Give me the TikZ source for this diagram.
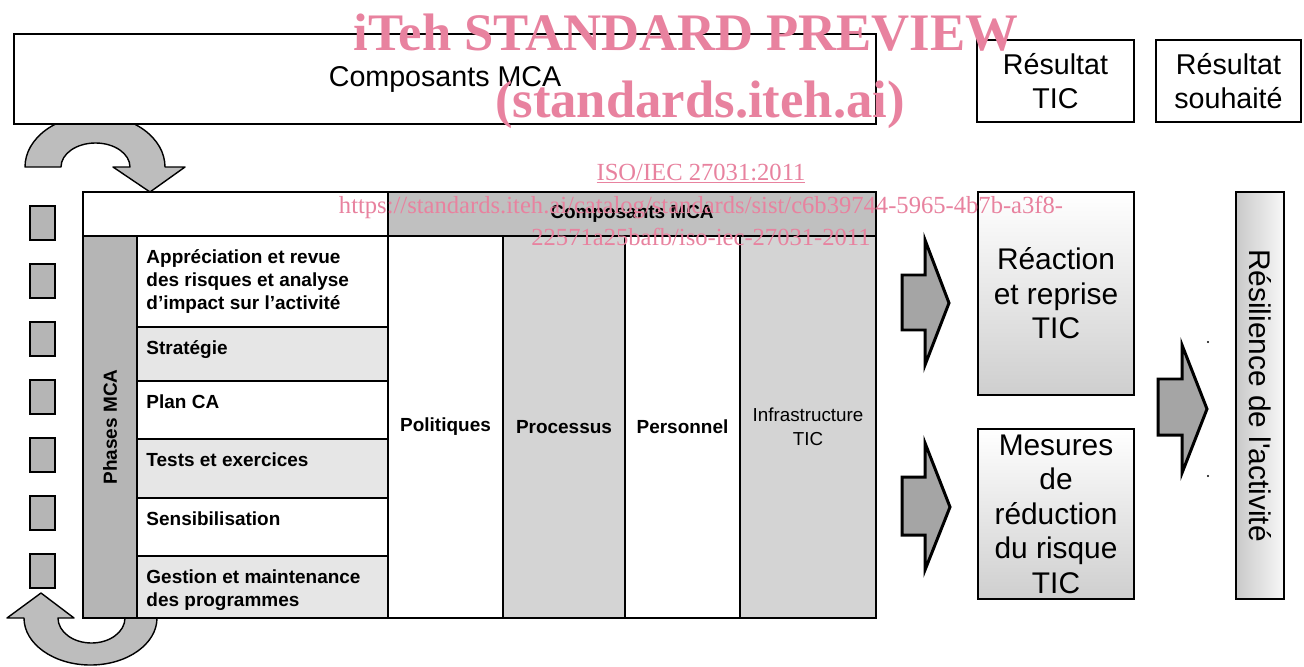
\documentclass[tikz,border=0pt]{standalone}
\usepackage{fontspec}
\setmainfont{Liberation Sans}
\newfontfamily\wmserif{Liberation Serif}
\usetikzlibrary{positioning,fit}
\definecolor{loopgray}{HTML}{BDBDBD}
\definecolor{phasegray}{HTML}{B5B5B5}
\definecolor{headgray}{HTML}{C0C0C0}
\definecolor{colgray}{HTML}{D4D4D4}
\definecolor{rowgray}{HTML}{E6E6E6}
\definecolor{arrowgray}{HTML}{A5A5A5}
\definecolor{wmpink}{HTML}{E8829F}

\begin{document}
\begin{tikzpicture}[x=0.02cm, y=-0.02cm,
  tabcell/.style={draw, line width=1pt, inner sep=0pt, fill=white},
  lbl/.style={inner sep=0pt, align=center},
  bigtxt/.style={lbl, font=\fontsize{17}{19.6}\selectfont},
  tabtxt/.style={lbl, font=\fontsize{10.8}{13}\selectfont\bfseries},
  rowtxt/.style={tabtxt, align=left},
  looparrow/.style={draw, line width=0.8pt, fill=loopgray, line join=round},
  blockarrow/.style={draw, line width=1.7pt, fill=arrowgray, line join=miter},
  wmbig/.style={text=wmpink, inner sep=0pt, anchor=base, font=\wmserif\bfseries\fontsize{30}{36}\selectfont},
  wmsmall/.style={text=wmpink, inner sep=0pt, anchor=base, font=\wmserif\fontsize{14}{17}\selectfont}
]
  \useasboundingbox (0,0) rectangle (1304,666);
  \fill[white] (0,0) rectangle (1304,666);

  % curved arrows round the phases
  \draw[looparrow] (25,167) arc[start angle=180, end angle=360, x radius=70, y radius=52]
    -- (185,167) -- (150,192) -- (113,167) -- (130,167)
    arc[start angle=0, end angle=-180, x radius=34.5, y radius=24] -- cycle;
  \draw[looparrow] (24,618) arc[start angle=180, end angle=0, x radius=66.5, y radius=47]
    -- (125,618) arc[start angle=0, end angle=180, x radius=33.5, y radius=25]
    -- (74,618) -- (41,593) -- (7,618) -- cycle;

  % top row
  \node[tabcell, fit={(14,34) (876,124)}] (mcatop) {};
  \node[tabcell, fit={(977,40) (1134,122)}] (restic) {};
  \node[tabcell, fit={(1156,40) (1301,122)}] (ressouh) {};
  \node[bigtxt, font=\fontsize{16.3}{19.6}\selectfont] (mcatoplbl) at (mcatop.center) {Composants MCA};
  \node[bigtxt, font=\fontsize{16.3}{19.6}\selectfont] (resticlbl) at (restic.center) {Résultat\\TIC};
  \node[bigtxt, font=\fontsize{16.3}{19.6}\selectfont] (ressouhlbl) at (ressouh.center) {Résultat\\souhaité};

  % small squares
  \foreach \y in {206,264,...,554}
    \node[tabcell, line width=0.8pt, fill=phasegray, fit={(30,\y) (55,\y+34)}] (sq\y) {};

  % table header
  \node[tabcell, fit={(83,192) (388,236)}] (hdrblank) {};
  \node[tabcell, fill=headgray, fit={(388,192) (876,236)}] (hdrcomp) {};
  \node[tabtxt] (hdrcomplbl) at (hdrcomp.center) {Composants MCA};
  \node[tabcell, fill=phasegray, fit={(83,236) (137,618)}] (phases) {};
  \node[tabtxt, rotate=90] (phaselbl) at (phases.center) {Phases MCA};

  % phase rows
  \foreach \name/\ya/\yb/\col in {r1/236/327/white, r2/327/381/rowgray, r3/381/439/white,
                                  r4/439/498/rowgray, r5/498/556/white, r6/556/618/rowgray}
    \node[tabcell, fill=\col, fit={(137,\ya) (388,\yb)}] (\name) {};
  \node[rowtxt, below right=0.28cm and 0.2cm of r1.north west] (t1) {Appréciation et revue\\des risques et analyse\\d’impact sur l’activité};
  \node[rowtxt, below right=0.28cm and 0.2cm of r2.north west] (t2) {Stratégie};
  \node[rowtxt, below right=0.28cm and 0.2cm of r3.north west] (t3) {Plan CA};
  \node[rowtxt, below right=0.28cm and 0.2cm of r4.north west] (t4) {Tests et exercices};
  \node[rowtxt, below right=0.28cm and 0.2cm of r5.north west] (t5) {Sensibilisation};
  \node[rowtxt, below right=0.28cm and 0.2cm of r6.north west] (t6) {Gestion et maintenance\\des programmes};

  % component columns
  \node[tabcell, fit={(388,236) (503,618)}] (colpol) {};
  \node[tabcell, fill=colgray, fit={(503,236) (625,618)}] (colproc) {};
  \node[tabcell, fit={(625,236) (740,618)}] (colpers) {};
  \node[tabcell, fill=colgray, fit={(740,236) (876,618)}] (colinfra) {};
  \node[tabtxt] (pollbl) at (colpol.center) {Politiques};
  \node[tabtxt] (proclbl) at (colproc.center) {Processus};
  \node[tabtxt] (perslbl) at (colpers.center) {Personnel};
  \node[lbl, font=\fontsize{10.7}{13.6}\selectfont] (infralbl) at (colinfra.center) {Infrastructure\\TIC};

  % results
  \node[tabcell, top color=white, bottom color=gray!38, fit={(978,192) (1134,395)}] (reaction) {};
  \node[tabcell, top color=white, bottom color=gray!38, fit={(978,429) (1134,599)}] (mesures) {};
  \node[tabcell, left color=gray!42, right color=gray!6, fit={(1236,192) (1284,599)}] (resil) {};
  \node[bigtxt] (reactionlbl) at (reaction.center) {Réaction\\et reprise\\TIC};
  \node[bigtxt] (mesureslbl) at (mesures.center) {Mesures\\de\\réduction\\du risque\\TIC};
  \node[bigtxt, rotate=-90] (resillbl) at (resil.center) {Résilience de l\textquotesingle activité};

  % block arrows
  \draw[blockarrow] (902,275) -- (925,275) -- (925,240) -- (949,303) -- (925,365) -- (925,330) -- (902,330) -- cycle;
  \draw[blockarrow] (902,477) -- (925,477) -- (925,443) -- (950,507) -- (925,570) -- (925,535) -- (902,535) -- cycle;
  \draw[blockarrow] (1158,379) -- (1182,379) -- (1182,345) -- (1207,409) -- (1182,473) -- (1182,435) -- (1158,435) -- cycle;
  \fill (1208,342) circle (1.2);
  \fill (1208,476) circle (1.2);

  % preview stamp
  \node[wmbig] (wm1) at (686,50) {iTeh STANDARD PREVIEW};
  \node[wmbig] (wm2) at (700,117) {(standards.iteh.ai)};
  \node[wmsmall] (wmiso) at (701,180) {\underline{ISO/IEC 27031:2011}};
  \node[wmsmall] (wmurl1) at (701,213) {https://standards.iteh.ai/catalog/standards/sist/c6b39744-5965-4b7b-a3f8-};
  \node[wmsmall] (wmurl2) at (701,245) {22571a25bafb/iso-iec-27031-2011};
\end{tikzpicture}
\end{document}
